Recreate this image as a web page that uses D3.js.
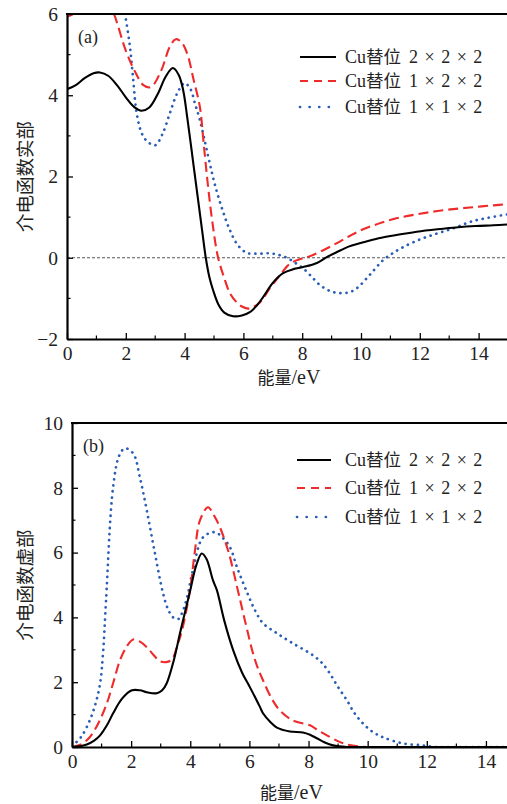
<!DOCTYPE html>
<html><head><meta charset="utf-8">
<script src="https://cdn.jsdelivr.net/npm/d3@7"></script>
<style>body{margin:0;background:#fff;} svg{display:block;}</style>
</head><body>
<svg id="c" width="507" height="804"></svg>
<script>
// ---- data ----
const seriesNames = ["Cu替位 2×2×2", "Cu替位 1×2×2", "Cu替位 1×1×2"];
const xTicks = [0, 2, 4, 6, 8, 10, 12, 14];
const yTicksA = [-2, 0, 2, 4, 6];
const yTicksB = [0, 2, 4, 6, 8, 10];

// (a) real part
const realX222 = [0,0.3,0.6,0.9,1.12,1.4,1.7,2.0,2.3,2.53,2.8,3.1,3.35,3.6,3.8,3.95,4.1,4.3,4.46,4.6,4.72,4.85,4.97,5.15,5.35,5.65,5.95,6.22,6.45,6.67,7.0,7.35,7.7,8.03,8.5,8.85,9.18,9.6,10.07,10.6,11.2,11.9,12.6,13.3,13.9,14.5,15];
const realY222 = [4.15,4.25,4.42,4.54,4.56,4.48,4.25,3.95,3.7,3.62,3.7,4.05,4.45,4.67,4.5,4.13,3.4,2.3,1.42,0.65,0,-0.5,-0.8,-1.15,-1.35,-1.44,-1.42,-1.34,-1.18,-0.97,-0.62,-0.38,-0.28,-0.23,-0.13,0.02,0.14,0.28,0.38,0.48,0.56,0.64,0.7,0.75,0.78,0.8,0.82];
const realX122 = [0,0.3,0.8,1.3,1.6,2.0,2.3,2.6,2.85,3.2,3.5,3.7,3.9,4.1,4.3,4.52,4.65,4.8,4.95,5.14,5.35,5.54,5.75,5.95,6.2,6.56,6.9,7.24,7.5,7.69,8.0,8.27,8.7,9.18,9.6,10.07,10.6,11.2,11.9,12.6,13.3,13.9,14.5,15];
const realY122 = [5.93,6.05,6.6,6.5,6.0,5.1,4.6,4.25,4.2,4.6,5.2,5.38,5.3,5.0,4.4,3.71,2.8,1.74,0.85,0,-0.5,-0.87,-1.08,-1.2,-1.25,-1.1,-0.75,-0.43,-0.2,-0.1,-0.02,0.04,0.18,0.36,0.53,0.7,0.84,0.97,1.07,1.15,1.21,1.25,1.29,1.32];
const realX112 = [1.2,1.5,1.8,1.97,2.14,2.25,2.37,2.55,2.75,3.0,3.25,3.5,3.75,4.0,4.2,4.35,4.52,4.8,5.03,5.3,5.54,5.8,6.12,6.5,6.9,7.2,7.48,7.75,8.03,8.3,8.6,8.95,9.28,9.6,9.86,10.3,10.75,11.1,11.43,12.0,12.6,13.2,13.7,14.3,15];
const realY112 = [8.5,7.5,6.6,6.0,5.2,4.4,3.56,3.05,2.85,2.77,3.05,3.56,4.05,4.3,4.15,3.8,3.39,2.5,1.8,1.15,0.68,0.32,0.12,0.1,0.11,0.07,0,-0.12,-0.26,-0.45,-0.67,-0.82,-0.87,-0.85,-0.75,-0.42,-0.06,0.12,0.26,0.45,0.6,0.74,0.88,0.98,1.07];

// (b) imaginary part
const imagX222 = [0,0.25,0.5,0.75,0.95,1.2,1.39,1.7,2.03,2.3,2.53,2.87,3.05,3.2,3.45,3.65,3.99,4.2,4.39,4.55,4.77,4.9,5.15,5.45,5.75,6.02,6.36,6.46,6.7,6.93,7.37,7.81,8.05,8.28,8.55,8.83,9.3,10,15];
const imagY222 = [0,0.02,0.08,0.2,0.36,0.7,1.04,1.5,1.75,1.75,1.69,1.66,1.75,1.96,2.7,3.5,4.8,5.6,5.97,5.8,5.14,4.84,3.9,2.99,2.3,1.84,1.23,1.04,0.78,0.6,0.48,0.45,0.38,0.27,0.14,0.05,0,0,0];
const imagX122 = [0,0.3,0.6,0.9,1.18,1.4,1.62,1.85,2.07,2.3,2.53,2.75,2.97,3.18,3.38,3.55,3.72,3.99,4.15,4.33,4.6,4.8,5.0,5.3,5.58,5.85,6.12,6.3,6.46,6.75,7.03,7.47,8.05,8.35,8.62,9.0,9.3,9.97,11,15];
const imagY122 = [0,0.08,0.3,0.75,1.35,2.0,2.67,3.1,3.32,3.25,3.08,2.85,2.65,2.62,2.7,3.1,3.6,4.84,6.0,7.0,7.4,7.15,6.79,6.0,4.95,3.9,2.9,2.4,2.06,1.5,1.13,0.82,0.67,0.5,0.36,0.18,0.08,0,0,0];
const imagX112 = [0,0.3,0.6,0.8,0.95,1.05,1.15,1.39,1.6,1.79,2.07,2.3,2.53,2.8,3.08,3.25,3.42,3.6,3.75,3.89,4.1,4.43,4.84,5.1,5.34,5.6,5.92,6.2,6.46,6.93,7.47,8.15,8.45,8.72,9.0,9.3,9.55,9.84,10.15,10.52,11.2,11.87,12.3,13,15];
const imagY112 = [0.03,0.3,0.82,1.35,1.96,2.9,4.5,8.02,9.0,9.22,9.06,8.3,7.3,6.0,4.74,4.25,4.0,3.95,4.2,4.62,5.5,6.47,6.63,6.45,6.17,5.5,4.77,4.2,3.82,3.51,3.2,2.83,2.6,2.27,1.85,1.44,1.05,0.73,0.48,0.3,0.11,0.05,0,0,0];

// ---- styles ----
const styles = [
  {color:"#000000", dash:null, width:2.1, cap:"butt"},
  {color:"#ee2a2a", dash:"10,5", width:2.1, cap:"butt"},
  {color:"#2a5db5", dash:"0.1,6", width:2.7, cap:"round"}
];
const serif = "'Liberation Serif','DejaVu Serif',serif";
const cjk = "'Noto Sans CJK SC','Noto Sans',sans-serif";

const svg = d3.select("#c");

function zip(xs, ys){ return xs.map((x,i)=>[x, ys[i]]); }

function panel(cfg){
  const x = d3.scaleLinear().domain([0,15]).range([cfg.left, cfg.right]);
  const y = d3.scaleLinear().domain(cfg.yDomain).range([cfg.bottom, cfg.top]);
  const g = svg.append("g");
  const clipId = "clip" + cfg.id;
  svg.append("defs").append("clipPath").attr("id", clipId)
    .append("rect").attr("x", cfg.left).attr("y", cfg.top)
    .attr("width", cfg.right - cfg.left).attr("height", cfg.bottom - cfg.top);

  const plot = g.append("g").attr("clip-path", `url(#${clipId})`);
  if (cfg.zeroLine) {
    plot.append("line").attr("x1", x(0)).attr("x2", x(15)).attr("y1", y(0)).attr("y2", y(0))
      .attr("stroke", "#444").attr("stroke-width", 0.9).attr("stroke-dasharray", "3,2");
  }
  const line = d3.line().x(d=>x(d[0])).y(d=>y(d[1])).curve(d3.curveCatmullRom.alpha(0.5));
  [2,1,0].forEach(i=>{
    const s = styles[i];
    plot.append("path").attr("d", line(cfg.data[i])).attr("fill","none")
      .attr("stroke", s.color).attr("stroke-width", s.width)
      .attr("stroke-dasharray", s.dash).attr("stroke-linecap", s.cap)
      .attr("stroke-linejoin","round");
  });

  // axes
  const xAxis = d3.axisBottom(x).tickValues(xTicks).tickSizeInner(-6).tickSizeOuter(0).tickPadding(7).tickFormat(d3.format("d"));
  const gx = g.append("g").attr("transform", `translate(0,${cfg.bottom})`).call(xAxis);
  const yAxis = d3.axisLeft(y).tickValues(cfg.yTicks).tickSizeInner(-6).tickSizeOuter(0).tickPadding(9)
    .tickFormat(d => d < 0 ? "\u2212" + Math.abs(d) : d);
  const gy = g.append("g").attr("transform", `translate(${cfg.left},0)`).call(yAxis);
  [gx, gy].forEach(a=>{
    a.select(".domain").attr("stroke","#000").attr("stroke-width",2.2);
    a.selectAll(".tick line").attr("stroke","#000").attr("stroke-width",1.3);
    a.selectAll(".tick text").attr("font-family", serif).attr("font-size", 19.5).attr("fill","#222");
  });
  // minor ticks
  const minorX = d3.range(1, 15, 2);
  g.selectAll(null).data(minorX).enter().append("line")
    .attr("x1", d=>x(d)).attr("x2", d=>x(d)).attr("y1", cfg.bottom).attr("y2", cfg.bottom-3.5)
    .attr("stroke","#000").attr("stroke-width",1.2);
  const minorY = d3.range(cfg.yDomain[0]+1, cfg.yDomain[1], 2);
  g.selectAll(null).data(minorY).enter().append("line")
    .attr("x1", cfg.left).attr("x2", cfg.left+3.5).attr("y1", d=>y(d)).attr("y2", d=>y(d))
    .attr("stroke","#000").attr("stroke-width",1.2);
  // top frame
  g.append("line").attr("x1", cfg.left-1).attr("x2", 507).attr("y1", cfg.top).attr("y2", cfg.top)
    .attr("stroke","#000").attr("stroke-width",2.2);

  // panel tag
  g.append("text").attr("x", cfg.left + 11).attr("y", cfg.top + 29)
    .attr("font-family", serif).attr("font-size", 18).attr("fill","#222").text(cfg.tag);

  // axis labels
  g.append("text").attr("x", (cfg.left + 507)/2 + 2).attr("y", cfg.bottom + cfg.xlabelDy)
    .attr("text-anchor","middle").attr("font-size", 17).attr("fill","#222")
    .html(`<tspan font-family="${cjk}">能量</tspan><tspan font-family="${serif}" font-size="20">/eV</tspan>`);
  g.append("text").attr("transform", `translate(${cfg.ylabelX},${(cfg.top+cfg.bottom)/2}) rotate(-90)`)
    .attr("text-anchor","middle").attr("font-family", cjk).attr("font-size", 18.5).attr("fill","#222")
    .text(cfg.ylabel);

  // legend
  cfg.legendRows.forEach((ry, i)=>{
    const s = styles[i];
    g.append("line").attr("x1", cfg.legX1).attr("x2", cfg.legX2).attr("y1", ry).attr("y2", ry)
      .attr("stroke", s.color).attr("stroke-width", s.width).attr("stroke-dasharray", i===2 ? "0.1,9.5" : (i===1 ? "8,6" : null))
      .attr("stroke-linecap", s.cap);
    const parts = seriesNames[i].split(" ");
    const t = g.append("text").attr("x", 345).attr("y", ry + 6).attr("fill","#222");
    t.append("tspan").attr("font-family", serif).attr("font-size", 18).text("Cu");
    t.append("tspan").attr("font-family", cjk).attr("font-size", 17.5).text(parts[0].replace("Cu",""));
    const dims = parts[1].split("×");
    t.append("tspan").attr("font-family", serif).attr("font-size", 18).attr("dx", 8)
      .attr("letter-spacing", 1).text(dims.join(" × "));
  });
}

panel({id:"a", left:67, right:508, top:14, bottom:339, yDomain:[-2,6], yTicks:yTicksA, zeroLine:true,
  tag:"(a)", ylabel:"介电函数实部", ylabelX:32, xlabelDy:45,
  data:[zip(realX222, realY222), zip(realX122, realY122), zip(realX112, realY112)],
  legendRows:[57, 81, 107], legX1:300, legX2:336});
panel({id:"b", left:72, right:515.5, top:423, bottom:747, yDomain:[0,10], yTicks:yTicksB, zeroLine:false,
  tag:"(b)", ylabel:"介电函数虚部", ylabelX:32, xlabelDy:52,
  data:[zip(imagX222, imagY222), zip(imagX122, imagY122), zip(imagX112, imagY112)],
  legendRows:[460, 488, 517], legX1:297, legX2:331});
</script>
</body></html>
